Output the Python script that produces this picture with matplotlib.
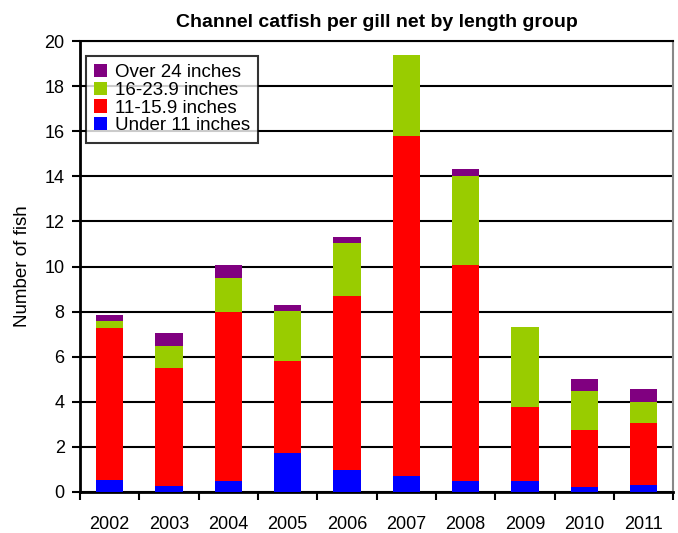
import numpy as np
import matplotlib
matplotlib.use("Agg")
import matplotlib.pyplot as plt

plt.rcParams['font.family'] = ['Liberation Sans', 'DejaVu Sans']

years = ['2002', '2003', '2004', '2005', '2006', '2007', '2008', '2009', '2010', '2011']
# segment heights
under11 = [0.55, 0.28, 0.50, 1.75, 0.99, 0.72, 0.50, 0.50, 0.24, 0.30]
s11_159 = [6.71, 5.24, 7.47, 4.05, 7.69, 15.08, 9.56, 3.25, 2.53, 2.74]
s16_239 = [0.31, 0.94, 1.51, 2.22, 2.35, 3.60, 3.94, 3.55, 1.73, 0.93]
over24 = [0.27, 0.57, 0.58, 0.26, 0.27, 0.00, 0.33, 0.00, 0.50, 0.58]

labels = ['Under 11 inches', '11-15.9 inches', '16-23.9 inches', 'Over 24 inches']
colors = ['#0000FF', '#FF0000', '#99CC00', '#800080']
series = [under11, s11_159, s16_239, over24]

fig = plt.figure(figsize=(6.78, 5.33), dpi=100)
ax = fig.add_axes([0.118, 0.077, 0.875, 0.846])

x = np.arange(len(years))
bottom = np.zeros(len(years))
handles = []
for vals, c, lab in zip(series, colors, labels):
    h = ax.bar(x, vals, width=0.46, bottom=bottom, color=c, label=lab, zorder=3)
    handles.append(h)
    bottom += np.array(vals)

ax.set_ylim(0, 20)
ax.set_xlim(-0.5, len(years) - 0.5)
ax.set_yticks(np.arange(0, 21, 2))
ax.yaxis.grid(True, color='black', linewidth=1.5, zorder=0)
ax.set_axisbelow(True)

ax.set_xticks(x)
ax.set_xticklabels(years)
ax.set_xticks(np.arange(-0.5, len(years), 1), minor=True)
ax.tick_params(axis='x', which='major', length=0, labelsize=13, pad=17)
ax.tick_params(axis='x', which='minor', length=6, width=1.5, direction='out')
ax.tick_params(axis='y', length=6, width=1.5, direction='out', labelsize=13, pad=5)

for side in ['left', 'bottom']:
    ax.spines[side].set_linewidth(2)
ax.spines['top'].set_linewidth(1.5)
ax.spines['right'].set_color('#888888')
ax.spines['right'].set_linewidth(1.5)

ax.set_ylabel('Number of fish', fontsize=13.5, labelpad=10)
ax.set_title('Channel catfish per gill net by length group', fontsize=14,
             fontweight='bold', pad=10)

leg = ax.legend(handles[::-1], labels[::-1], loc='upper left',
                bbox_to_anchor=(0.0, 0.98), fontsize=13.5, frameon=True,
                fancybox=False, edgecolor='black', handlelength=0.7,
                handleheight=0.7, handletextpad=0.4, labelspacing=0.03,
                borderpad=0.45, borderaxespad=0.3)
leg.get_frame().set_linewidth(1.5)
leg.set_zorder(5)

fig.savefig('out.png', dpi=100)
